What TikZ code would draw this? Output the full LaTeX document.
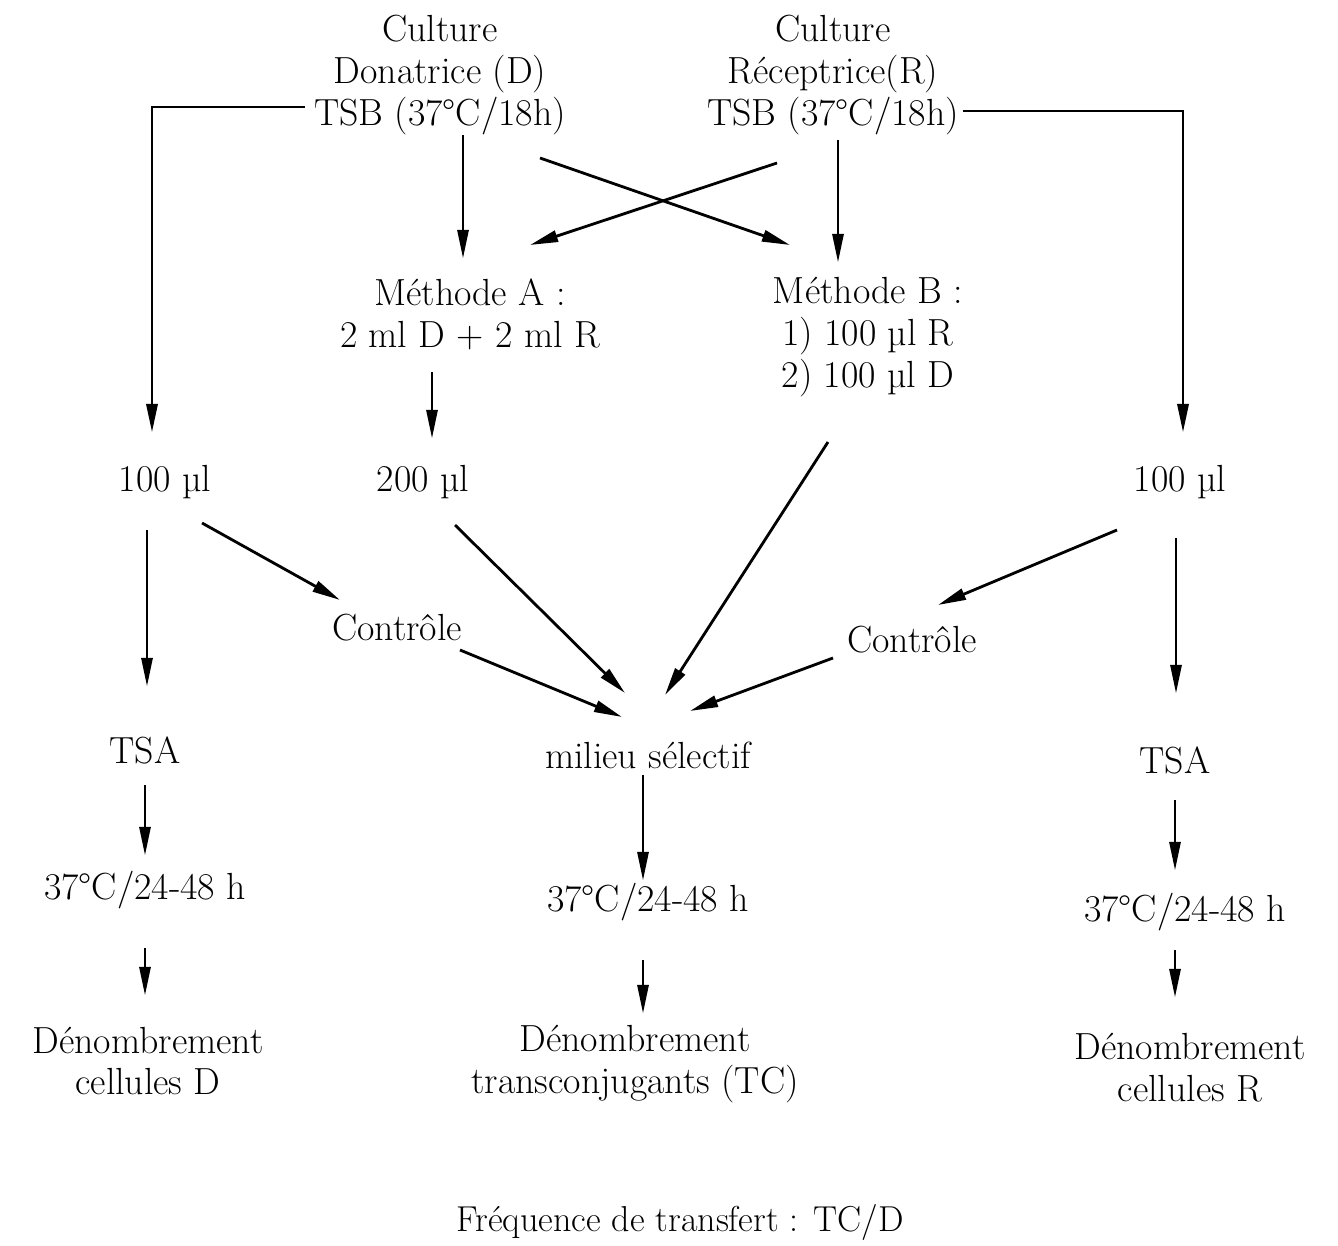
\documentclass[tikz,border=0pt]{standalone}
\usepackage{fontspec}
\usetikzlibrary{arrows.meta,calc}
\begin{document}
\begin{tikzpicture}[x=0.02cm,y=-0.02cm,
  lbl/.style={align=center,font=\fontsize{21.5}{23.8}\selectfont,inner sep=2pt},
  note/.style={font=\fontsize{20.5}{24}\selectfont,inner sep=2pt},
  arr/.style={-{Triangle[length=16pt,width=6.5pt]},line width=0.9pt},
  arrd/.style={arr,line width=1.6pt},
  elbow/.style={arr,line width=1.2pt}]
\useasboundingbox (0,0) rectangle (1338,1246);

% cultures
\node[lbl] (cultD) at (440,75) {Culture\\Donatrice (D)\\TSB (37°C/18h)};
\node[lbl] (cultR) at (833,75) {Culture\\Réceptrice(R)\\TSB (37°C/18h)};

% methods
\node[lbl] (methA) at (470,314) {Méthode A :\\2 ml D + 2 ml R};
\node[lbl] (methB) at (868,337) {Méthode B :\\1) 100 µl R\\2) 100 µl D};

% volumes
\node[lbl] (v100D) at (165,482) {100 µl};
\node[lbl] (v200)  at (423,482) {200 µl};
\node[lbl] (v100R) at (1180,482) {100 µl};

% controls and media
\node[lbl] (ctrlL)  at (397,628) {Contrôle};
\node[lbl] (ctrlR)  at (912,640) {Contrôle};
\node[lbl] (milieu) at (648,755) {milieu sélectif};
\node[lbl] (tsaL)   at (145,750) {TSA};
\node[lbl] (tsaR)   at (1175,760) {TSA};

% incubation
\node[lbl] (tempL) at (145,890) {37°C/24-48 h};
\node[lbl] (tempM) at (648,902) {37°C/24-48 h};
\node[lbl] (tempR) at (1185,912) {37°C/24-48 h};

% counts
\node[lbl] (denL) at (148,1061) {Dénombrement\\cellules D};
\node[lbl] (denM) at (635,1064) {Dénombrement\\transconjugants (TC)};
\node[lbl] (denR) at (1190,1068) {Dénombrement\\cellules R};

\node[note] (freq) at (680,1222) {Fréquence de transfert : TC/D};

% connectors from the cultures
\draw[elbow] ($(cultD)+(-135,32)$) -| ($(v100D)+(-13,-50)$);
\draw[arr]  ($(cultD)+(23,60)$) -- ($(methA)+(-7,-56)$);
\draw[arrd] ($(cultD)+(100,83)$) -- ($(methB)+(-78,-92)$);
\draw[arrd] ($(cultR)+(-56,88)$) -- ($(methA)+(60,-69)$);
\draw[arr]  ($(cultR)+(5,65)$) -- ($(methB)+(-30,-75)$);
\draw[elbow] ($(cultR)+(130,36)$) -| ($(v100R)+(3,-50)$);

% methods to volumes / medium
\draw[arr]  ($(methA)+(-38,58)$) -- ($(v200)+(9,-44)$);
\draw[arrd] ($(methB)+(-40,105)$) -- ($(milieu)+(17,-60)$);

% volumes to plates
\draw[arr]  ($(v100D)+(-18,48)$) -- ($(tsaL)+(2,-64)$);
\draw[arrd] ($(v100D)+(37,41)$) -- ($(ctrlL)+(-57,-28)$);
\draw[arrd] ($(v200)+(32,43)$) -- ($(milieu)+(-23,-62)$);
\draw[arrd] ($(ctrlL)+(63,22)$) -- ($(milieu)+(-26,-38)$);
\draw[arrd] ($(v100R)+(-63,48)$) -- ($(ctrlR)+(26,-35)$);
\draw[arr]  ($(v100R)+(-4,56)$) -- ($(tsaR)+(1,-67)$);
\draw[arrd] ($(ctrlR)+(-79,18)$) -- ($(milieu)+(42,-44)$);

% incubation and counting
\draw[arr] ($(tsaL)+(0,35)$) -- ($(tempL)+(0,-35)$);
\draw[arr] ($(milieu)+(-5,20)$) -- ($(tempM)+(-5,-22)$);
\draw[arr] ($(tsaR)+(0,40)$) -- ($(tempR)+(-10,-42)$);
\draw[arr] ($(tempL)+(0,58)$) -- ($(denL)+(-3,-66)$);
\draw[arr] ($(tempM)+(-5,58)$) -- ($(denM)+(8,-51)$);
\draw[arr] ($(tempR)+(-10,38)$) -- ($(denR)+(-15,-71)$);
\end{tikzpicture}
\end{document}
